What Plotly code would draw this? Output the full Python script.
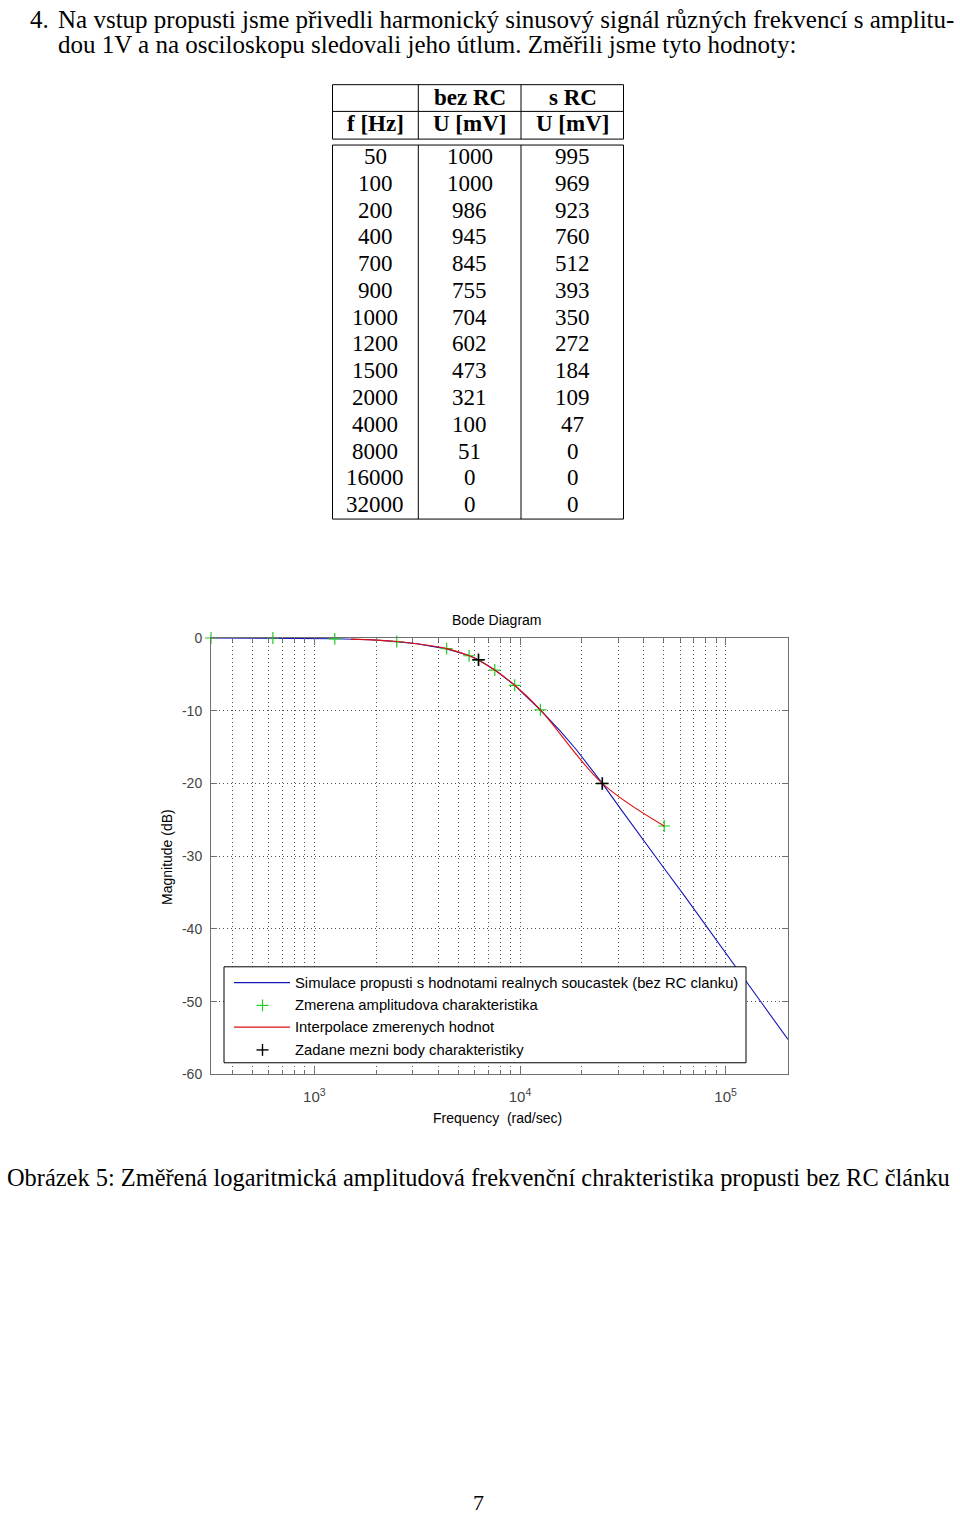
import numpy as np
import plotly.graph_objects as go

W, H = 960, 1520

# ---------------- data ----------------
freq_hz = [50, 100, 200, 400, 700, 900, 1000, 1200, 1500, 2000, 4000, 8000, 16000, 32000]
u_bez_rc = [1000, 1000, 986, 945, 845, 755, 704, 602, 473, 321, 100, 51, 0, 0]
u_s_rc = [995, 969, 923, 760, 512, 393, 350, 272, 184, 109, 47, 0, 0, 0]
table_header1 = ["", "bez RC", "s RC"]
table_header2 = ["f [Hz]", "U [mV]", "U [mV]"]

# simulated response (blue)
sim_hz = [50, 100, 200, 300, 400, 500, 700, 900, 1000, 1200, 1500, 2000, 2500, 3000,
          3500, 4000, 5000, 6000, 8000, 10000, 12000, 16000, 20000, 25000, 32000]
sim_db = [0, -0.02, -0.1, -0.25, -0.5, -0.8, -1.5, -2.4, -3.0, -4.4, -6.5, -9.9, -12.8, -15.4,
          -17.8, -20.0, -23.8, -26.8, -31.7, -35.4, -38.5, -43.4, -47.1, -50.9, -55.2]

interp_hz = [240, 400, 700, 900, 1000, 1200, 1500, 2000, 4000, 8000]
interp_db = [-0.15, -0.49, -1.46, -2.44, -3.05, -4.41, -6.50, -9.87, -20.0, -25.85]

# given limit points (black +)
limit_hz = [1000, 4000]
limit_db = [-3, -20]

x_tick_vals = [1e3, 1e4, 1e5]
x_tick_text = ["10<sup>3</sup>", "10<sup>4</sup>", "10<sup>5</sup>"]
y_tick_vals = [0, -10, -20, -30, -40, -50, -60]
y_tick_text = ["0", "-10", "-20", "-30", "-40", "-50", "-60"]

legend_labels = [
    "Simulace propusti s hodnotami realnych soucastek (bez RC clanku)",
    "Zmerena amplitudova charakteristika",
    "Interpolace zmerenych hodnot",
    "Zadane mezni body charakteristiky",
]

# ---------------- helpers ----------------
def w(hz):
    return [2 * np.pi * f for f in hz]

def px(x):
    return x / W

def py(y):
    return 1 - y / H

SERIF = "Liberation Serif"
SANS = "Liberation Sans"

annotations = []
shapes = []

def ann(text, x, y, size, family=SERIF, xanchor="center", yanchor="middle", color="black", angle=0):
    annotations.append(dict(text=text, x=px(x), y=py(y), xref="paper", yref="paper",
                            xanchor=xanchor, yanchor=yanchor, showarrow=False, textangle=angle,
                            font=dict(family=family, size=size, color=color)))

def line(x0, y0, x1, y1, color="black", width=1):
    shapes.append(dict(type="line", xref="paper", yref="paper", x0=px(x0), y0=py(y0),
                       x1=px(x1), y1=py(y1), line=dict(color=color, width=width)))

# ---------------- figure ----------------
fig = go.Figure()

meas_x = [2 * np.pi * f for f, u in zip(freq_hz, u_bez_rc) if u > 0]
meas_y = [20 * np.log10(u / 1000) for u in u_bez_rc if u > 0]

fig.add_trace(go.Scatter(x=w(sim_hz), y=sim_db, mode="lines",
                         line=dict(color="#1414b4", width=1.1), name=legend_labels[0]))
fig.add_trace(go.Scatter(x=meas_x, y=meas_y, mode="markers", cliponaxis=False,
                         marker=dict(symbol="cross-thin", size=8.5, line=dict(color="#22cc22", width=1.2)),
                         name=legend_labels[1]))
fig.add_trace(go.Scatter(x=w(interp_hz), y=interp_db, mode="lines", line_shape="spline",
                         line=dict(color="#dd1111", width=1.1), name=legend_labels[2]))
fig.add_trace(go.Scatter(x=w(limit_hz), y=limit_db, mode="markers", cliponaxis=False,
                         marker=dict(symbol="cross-thin", size=9, line=dict(color="black", width=1.6)),
                         name=legend_labels[3]))

xmin = np.log10(2 * np.pi * 50)
xmax = np.log10(2 * np.pi * 32000)
minor_vals = [k * 10 ** e for e in range(2, 6) for k in range(2, 10)
              if xmin <= np.log10(k * 10 ** e) <= xmax]

grid_dash = "1px,3px"
fig.update_xaxes(type="log", range=[xmin, xmax], domain=[211 / W, 788 / W],
                 showline=True, linecolor="#707070", linewidth=1, mirror="ticks",
                 ticks="inside", ticklen=7, tickcolor="#707070", tickwidth=1,
                 tickmode="array", tickvals=x_tick_vals, ticktext=x_tick_text,
                 showgrid=True, gridcolor="#505050", griddash=grid_dash, gridwidth=1,
                 minor=dict(tickmode="array", tickvals=minor_vals, ticks="inside", ticklen=4,
                            tickcolor="#707070", showgrid=True, gridcolor="#505050",
                            griddash=grid_dash, gridwidth=1),
                 tickfont=dict(family=SANS, size=15, color="#444444"),
                 zeroline=False, ticklabelstandoff=9)
fig.update_yaxes(range=[-60, 0], domain=[1 - 1077.7 / H, 1 - 636.7 / H],
                 showline=True, linecolor="#707070", linewidth=1, mirror="ticks",
                 ticks="inside", ticklen=6, tickcolor="#707070",
                 tickmode="array", tickvals=y_tick_vals, ticktext=y_tick_text,
                 showgrid=True, gridcolor="#505050", griddash=grid_dash, gridwidth=1,
                 tickfont=dict(family=SANS, size=14, color="#444444"),
                 zeroline=False, ticklabelstandoff=5)

# plot texts
ann("Bode Diagram", 497, 619, 14, SANS)
ann("Frequency\u00a0\u00a0(rad/sec)", 497, 1122, 14, SANS)
ann("Magnitude (dB)", 167, 858, 14, SANS, angle=-90)

# custom legend
shapes.append(dict(type="rect", xref="paper", yref="paper", x0=px(224), y0=py(1066), x1=px(746), y1=py(969),
                   line=dict(color="black", width=1), fillcolor="white", layer="above"))
legend_y = [985, 1008, 1030, 1053]
line(234, legend_y[0], 290, legend_y[0], "#1414b4", 1.2)
line(234, legend_y[2], 290, legend_y[2], "#dd1111", 1.2)
for yy, col, lw in [(legend_y[1], "#22cc22", 1.2), (legend_y[3], "black", 1.4)]:
    line(256.5, yy, 268.5, yy, col, lw)
    line(262.5, yy - 6, 262.5, yy + 6, col, lw)
for lab, yy in zip(legend_labels, legend_y):
    ann(lab, 293, yy, 14.8, SANS, xanchor="left")

# ---------------- page text ----------------
ann("4.", 28, 12, 25, xanchor="left")
ann("Na vstup propusti jsme přivedli harmonický sinusový signál různých frekvencí s amplitu-",
    56, 12, 25, xanchor="left")
ann("dou 1V a na osciloskopu sledovali jeho útlum. Změřili jsme tyto hodnoty:", 56, 37, 25, xanchor="left")

# table
col_x = [375, 469.5, 572.5]
for c, t in zip(col_x, table_header1):
    if t:
        ann("<b>" + t + "</b>", c, 90, 23)
for c, t in zip(col_x, table_header2):
    ann("<b>" + t + "</b>", c, 117, 23)
row_top, row_step = 150, 27.08
for i, (f, a, b) in enumerate(zip(freq_hz, u_bez_rc, u_s_rc)):
    yy = row_top + i * row_step
    for c, v in zip(col_x, [f, a, b]):
        ann(str(v), c, yy, 23)

tbl_l, tbl_r = 332.5, 623.5
col_lines = [418.3, 521]
# header box
line(tbl_l, 77.5, tbl_r, 77.5)
line(tbl_l, 104.5, tbl_r, 104.5)
line(tbl_l, 132.5, tbl_r, 132.5)
# data box
line(tbl_l, 138.5, tbl_r, 138.5)
line(tbl_l, 516.5, tbl_r, 516.5)
for xx in [tbl_l, tbl_r] + col_lines:
    line(xx, 77.5, xx, 132.5)
    line(xx, 138.5, xx, 516.5)

# caption and page number
ann("Obrázek 5: Změřená logaritmická amplitudová frekvenční chrakteristika propusti bez RC článku",
    478, 1182, 24.4)
ann("7", 478, 1510, 22)

fig.update_layout(width=W, height=H, margin=dict(l=0, r=0, t=0, b=0),
                  paper_bgcolor="white", plot_bgcolor="white", showlegend=False,
                  annotations=annotations, shapes=shapes)

fig.write_html("out.html")
